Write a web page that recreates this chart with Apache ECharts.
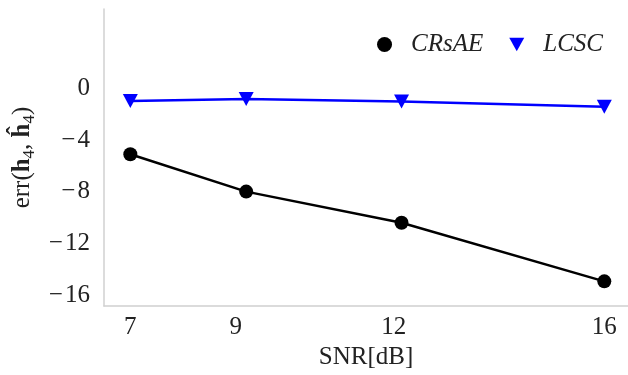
<!DOCTYPE html>
<html>
<head>
<meta charset="utf-8">
<script src="https://cdn.jsdelivr.net/npm/echarts@6/dist/echarts.min.js"></script>
<style>html,body{margin:0;padding:0;background:#fff}#c{width:628px;height:375px}</style>
</head>
<body>
<div id="c"></div>
<script>
const snr = [7, 9.2, 12.15, 16];
const xTicks = [7, 9, 12, 16];
const yTicks = [0, -4, -8, -12, -16];
const crsae = [-5.1, -7.98, -10.38, -14.9];
const lcsc = [-1.0, -0.83, -1.03, -1.44];
const seriesNames = ['CRsAE', 'LCSC'];

const FONT = '"Liberation Serif", "DejaVu Serif", serif';
const FS = 25;
const TRI = 'path://M0,0 L10,0 L5,9 Z';

const chart = echarts.init(document.getElementById('c'));
chart.setOption({
  animation: false,
  backgroundColor: '#ffffff',
  grid: { left: 104, right: 0, top: 9, bottom: 67, containLabel: false },
  legend: {
    top: 27, right: 20,
    itemWidth: 15, itemHeight: 15, itemGap: 26,
    textStyle: { fontFamily: FONT, fontStyle: 'italic', fontSize: FS, color: '#222', padding: [0, 0, 0, 14] },
    data: [
      { name: seriesNames[0], icon: 'circle' },
      { name: seriesNames[1], icon: TRI }
    ]
  },
  xAxis: {
    type: 'value', min: 6.5, max: 16.45,
    axisLine: { show: true, onZero: false, lineStyle: { color: '#d0d0d0', width: 1.5 } },
    axisTick: { show: false },
    splitLine: { show: false },
    axisLabel: { customValues: xTicks, fontFamily: FONT, fontSize: FS, color: '#222', margin: 9 },
    name: 'SNR[dB]', nameLocation: 'middle', nameGap: 39,
    nameTextStyle: { fontFamily: FONT, fontSize: FS, color: '#222' }
  },
  yAxis: {
    type: 'value', min: -16.8, max: 6.1,
    axisLine: { show: true, lineStyle: { color: '#d0d0d0', width: 1.5 } },
    axisTick: { show: false },
    splitLine: { show: false },
    axisLabel: {
      customValues: yTicks, fontFamily: FONT, fontSize: FS, color: '#222', margin: 14,
      formatter: v => (v < 0 ? '\u2212\u200A' + Math.abs(v) : String(v))
    },
    name: '{n|err(}{b|h}{s|4}{n|, }{b|\u0125}{s|4}{n|)}',
    nameLocation: 'middle', nameGap: 66, nameRotate: 90,
    nameTextStyle: {
      fontFamily: FONT, fontSize: FS, color: '#222',
      rich: {
        n: { fontFamily: FONT, fontSize: FS, color: '#222', lineHeight: 30 },
        b: { fontFamily: FONT, fontSize: FS, color: '#222', fontWeight: 'bold', lineHeight: 30 },
        s: { fontFamily: FONT, fontSize: 17, color: '#222', lineHeight: 17, padding: [10, 0, 0, 0], verticalAlign: 'bottom' }
      }
    }
  },
  series: [
    {
      name: seriesNames[0], type: 'line',
      data: snr.map((x, i) => [x, crsae[i]]),
      symbol: 'circle', symbolSize: 14,
      lineStyle: { color: '#000', width: 2.5 },
      itemStyle: { color: '#000' }
    },
    {
      name: seriesNames[1], type: 'line',
      data: snr.map((x, i) => [x, lcsc[i]]),
      symbol: TRI, symbolSize: [15, 14],
      lineStyle: { color: '#0000ff', width: 2.5 },
      itemStyle: { color: '#0000ff' }
    }
  ]
});
</script>
</body>
</html>
